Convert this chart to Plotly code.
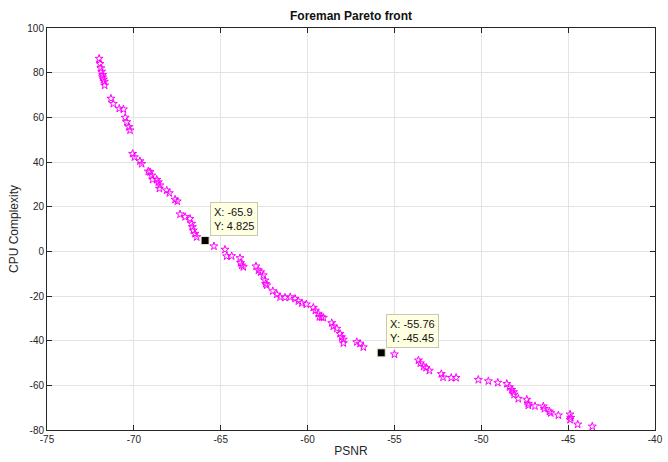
import plotly.graph_objects as go

psnr = [-72.0, -71.95, -71.9, -71.85, -71.8, -71.8, -71.75, -71.7, -71.68,
        -71.32, -71.18, -70.84, -70.6, -70.5, -70.41, -70.28, -70.22,
        -70.07, -69.97, -69.65, -69.55, -69.17, -69.07, -68.97, -68.92, -68.68,
        -68.59, -68.5, -68.53, -68.11, -67.96, -67.63, -67.5,
        -67.34, -67.05, -66.77, -66.67, -66.63, -66.58, -66.48, -66.38,
        -65.39, -64.75, -64.66, -64.37, -63.89, -63.85, -63.79, -63.7,
        -62.97, -62.83, -62.7, -62.55, -62.45, -62.41, -62.35,
        -62.0, -61.77, -61.58, -61.3, -61.0, -60.72, -60.53, -60.33, -60.07,
        -59.67, -59.55, -59.38, -59.32, -59.19, -59.09,
        -58.61, -58.52, -58.32, -58.13, -58.04, -57.94, -57.94,
        -57.17, -56.98, -56.79, -55.0,
        -53.62, -53.51, -53.32, -53.18, -52.99, -52.3, -52.2, -51.73, -51.45,
        -50.17, -49.59, -49.05, -48.53, -48.38, -48.25, -48.15, -48.11, -47.87,
        -47.38, -47.29, -47.29, -46.91, -46.43, -46.37, -46.08, -46.0, -45.56,
        -44.89, -44.85, -44.89, -44.45, -43.61]
cpu = [86.3, 84.0, 82.0, 80.5, 79.0, 78.0, 77.0, 76.0, 74.3,
       68.4, 66.1, 63.9, 63.6, 59.9, 57.9, 55.7, 54.2,
       43.7, 42.2, 40.4, 39.2, 35.8, 35.5, 34.0, 32.1, 32.1,
       31.0, 29.6, 28.1, 27.3, 26.1, 23.2, 22.4,
       16.6, 15.4, 14.6, 12.4, 10.9, 9.4, 7.9, 6.4,
       2.3, 0.8, -2.2, -2.1, -3.0, -5.2, -6.3, -7.0,
       -6.7, -8.5, -9.3, -10.7, -13.0, -14.5, -15.2,
       -17.8, -19.3, -20.5, -20.7, -20.5, -21.2, -22.3, -23.2, -23.7,
       -25.2, -26.5, -27.9, -29.4, -29.5, -29.7,
       -32.1, -33.6, -34.6, -36.9, -38.4, -39.5, -41.1,
       -40.6, -41.3, -42.9, -46.1,
       -48.8, -50.1, -51.6, -52.1, -53.4, -54.9, -56.4, -56.6, -56.6,
       -57.5, -58.1, -58.8, -59.3, -60.8, -62.0, -63.0, -64.1, -66.0,
       -66.4, -68.2, -69.0, -69.3, -69.4, -70.5, -71.7, -72.4, -73.4,
       -73.0, -74.5, -75.4, -77.5, -78.4]

tip_x = [-65.9, -55.76]
tip_y = [4.825, -45.45]
tip_text = ["X: -65.9<br>Y: 4.825", "X: -55.76<br>Y: -45.45"]

x_ticks = [-75, -70, -65, -60, -55, -50, -45, -40]
y_ticks = [-80, -60, -40, -20, 0, 20, 40, 60, 80, 100]

fig = go.Figure()
fig.add_trace(go.Scatter(
    x=psnr, y=cpu, mode="markers",
    marker=dict(symbol="star-open", size=6, color="#ff00ff", line=dict(width=1, color="#ff00ff")),
    showlegend=False, hoverinfo="skip"))
fig.add_trace(go.Scatter(
    x=tip_x, y=tip_y, mode="markers",
    marker=dict(symbol="square", size=8, color="black", line=dict(width=1, color="#e8e8c8")),
    showlegend=False, hoverinfo="skip"))

for tx, ty, tt in zip(tip_x, tip_y, tip_text):
    fig.add_annotation(x=tx, y=ty, text=tt, showarrow=False, xanchor="left", yanchor="bottom",
                       xshift=5, yshift=5, align="left", bgcolor="#ffffe1",
                       bordercolor="#c8c8b4", borderwidth=1, borderpad=3,
                       font=dict(family="Liberation Sans, Arial, sans-serif", size=11, color="#111111"))

axis_common = dict(showgrid=True, gridcolor="#e3e3e3", gridwidth=1, zeroline=False,
                   showline=True, linecolor="#262626", linewidth=1, mirror="ticks",
                   ticks="inside", ticklen=5, tickcolor="#262626", automargin=False,
                   tickfont=dict(family="Liberation Sans, Arial, sans-serif", size=10, color="#262626"))

fig.update_xaxes(range=[-75, -40], tickvals=x_ticks, ticktext=[str(v) for v in x_ticks],
                 title=dict(text="PSNR", font=dict(size=12, color="#262626"), standoff=2), **axis_common)
fig.update_yaxes(range=[-80, 100], tickvals=y_ticks, ticktext=[str(v) for v in y_ticks],
                 title=dict(text="CPU Complexity", font=dict(size=12, color="#262626"), standoff=6), **axis_common)

fig.update_layout(
    width=668, height=462,
    margin=dict(l=47, r=13, t=28, b=32, autoexpand=False),
    paper_bgcolor="white", plot_bgcolor="white",
    font=dict(family="Liberation Sans, Arial, sans-serif", color="#262626"),
    title=dict(text="<b>Foreman Pareto front</b>", x=0.5, xref="paper", y=0.965, yanchor="middle",
               font=dict(size=12, color="#111111")),
)

fig.write_html("out.html", config={"displayModeBar": False},
               post_script="document.body.style.margin='0';document.body.style.overflow='hidden';")
